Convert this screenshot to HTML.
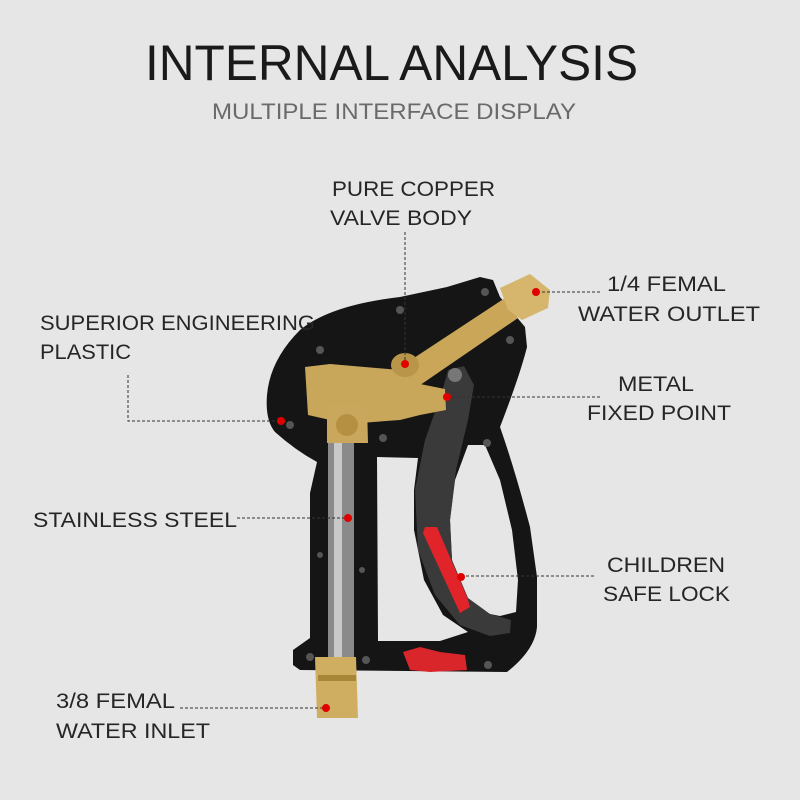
<!DOCTYPE html>
<html><head><meta charset="utf-8"><style>
html,body{margin:0;padding:0;background:#e6e6e6}
svg{display:block}
text{font-family:"Liberation Sans",sans-serif;fill:#262626}
.l{font-size:21px}
</style></head><body>
<svg width="800" height="800" viewBox="0 0 800 800" xmlns="http://www.w3.org/2000/svg">
<rect width="800" height="800" fill="#e6e6e6"/>
<text x="145" y="80" font-size="50" textLength="493" lengthAdjust="spacingAndGlyphs" style="fill:#1a1a1a">INTERNAL ANALYSIS</text>
<text x="212" y="119" font-size="22" textLength="364" lengthAdjust="spacingAndGlyphs" style="fill:#6a6a6a">MULTIPLE INTERFACE DISPLAY</text>

<!-- gun body -->
<path d="M480,277 L493,280 L500,297 L525,327 L527,347 Q520,375 500,427 Q515,470 530,527 L537,577 L537,627 Q535,650 507,672 L300,670 L293,665 L293,650 L310,638 L310,493 L317,462 Q295,450 275,432 Q265,420 267,395 Q270,360 300,330 Q330,305 400,297 L447,287 Z" fill="#151515"/>
<!-- holes -->
<path d="M377,457 L418,458 L414,490 L414,530 L424,580 L443,615 L468,632 L440,641 L378,641 Z" fill="#e6e6e6"/>
<path d="M468,445 L485,445 L500,480 L512,530 L518,580 L516,612 L500,616 L480,612 L462,595 L452,560 L450,520 L455,480 Z" fill="#e6e6e6"/>
<!-- trigger -->
<path d="M448,370 L442,392 L425,440 L415,490 L418,550 L435,595 L460,625 L490,636 L510,633 L511,620 L490,614 L468,598 L452,560 L450,520 L456,470 L468,420 L474,385 L464,366 Z" fill="#3a3a3a"/>
<circle cx="455" cy="375" r="7" fill="#777"/>
<!-- red lock -->
<path d="M425,527 L437,527 L467,597 L470,607 L460,613 L423,533 Z" fill="#e0242a"/>
<path d="M403,652 L420,647 L440,652 L465,655 L467,670 L430,672 L410,670 Z" fill="#d8262a"/>
<!-- steel tube -->
<rect x="328" y="438" width="26" height="222" fill="#8a8a8a"/>
<rect x="334" y="438" width="8" height="222" fill="#c9c9c9"/>
<!-- brass -->
<path d="M388,375 L505,298 L518,318 L410,392 Z" fill="#c9a658"/>
<path d="M500,288 L530,274 L550,290 L548,308 L522,320 L508,310 Z" fill="#d6b66c"/>
<path d="M305,367 L330,364 L400,370 L420,384 L445,389 L446,410 L420,415 L400,420 L360,423 L330,420 L308,415 Z" fill="#c8a65a"/>
<ellipse cx="405" cy="365" rx="14" ry="12" fill="#b89548"/>
<path d="M327,405 L367,405 L368,443 L327,443 Z" fill="#c9a75c"/>
<circle cx="347" cy="425" r="11" fill="#b58f42"/>
<path d="M315,657 L356,657 L358,718 L317,718 Z" fill="#cfae62"/>
<rect x="318" y="675" width="38" height="6" fill="#a88638"/>
<!-- small screws -->
<g fill="#555"><circle cx="290" cy="425" r="4"/><circle cx="320" cy="350" r="4"/><circle cx="400" cy="310" r="4"/><circle cx="485" cy="292" r="4"/><circle cx="510" cy="340" r="4"/><circle cx="383" cy="438" r="4"/><circle cx="487" cy="443" r="4"/><circle cx="310" cy="657" r="4"/><circle cx="366" cy="660" r="4"/><circle cx="488" cy="665" r="4"/><circle cx="320" cy="555" r="3"/><circle cx="362" cy="570" r="3"/></g>

<!-- dashed leaders -->
<g stroke="#333" stroke-width="1" stroke-dasharray="3,2" fill="none">
<path d="M405,232 V363"/>
<path d="M537,292 H600"/>
<path d="M128,375 V421 H280"/>
<path d="M447,397 H600"/>
<path d="M237,518 H348"/>
<path d="M461,576 H595"/>
<path d="M180,708 H326"/>
</g>
<g fill="#e00000">
<circle cx="405" cy="364" r="4"/><circle cx="536" cy="292" r="4"/><circle cx="281" cy="421" r="4"/><circle cx="447" cy="397" r="4"/><circle cx="348" cy="518" r="4"/><circle cx="461" cy="577" r="4"/><circle cx="326" cy="708" r="4"/>
</g>

<g class="l">
<text x="332" y="196" textLength="163" lengthAdjust="spacingAndGlyphs">PURE COPPER</text>
<text x="330" y="225" textLength="142" lengthAdjust="spacingAndGlyphs">VALVE BODY</text>
<text x="607" y="291" textLength="119" lengthAdjust="spacingAndGlyphs">1/4 FEMAL</text>
<text x="578" y="321" textLength="182" lengthAdjust="spacingAndGlyphs">WATER OUTLET</text>
<text x="40" y="330" textLength="275" lengthAdjust="spacingAndGlyphs">SUPERIOR ENGINEERING</text>
<text x="40" y="359" textLength="91" lengthAdjust="spacingAndGlyphs">PLASTIC</text>
<text x="618" y="391" textLength="76" lengthAdjust="spacingAndGlyphs">METAL</text>
<text x="587" y="420" textLength="144" lengthAdjust="spacingAndGlyphs">FIXED POINT</text>
<text x="33" y="527" textLength="204" lengthAdjust="spacingAndGlyphs">STAINLESS STEEL</text>
<text x="607" y="572" textLength="118" lengthAdjust="spacingAndGlyphs">CHILDREN</text>
<text x="603" y="601" textLength="127" lengthAdjust="spacingAndGlyphs">SAFE LOCK</text>
<text x="56" y="708" textLength="119" lengthAdjust="spacingAndGlyphs">3/8 FEMAL</text>
<text x="56" y="738" textLength="154" lengthAdjust="spacingAndGlyphs">WATER INLET</text>
</g>
</svg>
</body></html>
